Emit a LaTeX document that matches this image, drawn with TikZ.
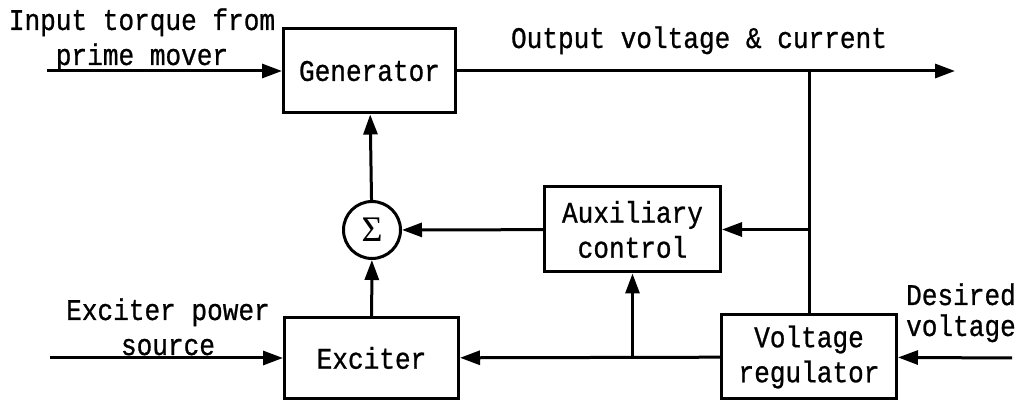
\documentclass[tikz,border=0pt]{standalone}
\usepackage{fontspec}
\setmainfont[FakeStretch=0.87, FakeBold=0.8]{Liberation Mono}
\newfontfamily\sigmafont{Liberation Serif}
\usepackage{amsmath}
\usepackage{tikz}
\usetikzlibrary{arrows.meta,positioning}

\begin{document}
\begin{tikzpicture}[
        x=1pt, y=-1pt,
        font=\fontsize{30}{35}\selectfont,
        block/.style={draw, line width=3pt, inner sep=0pt, align=center},
        sumnode/.style={draw, circle, line width=3pt, inner sep=0pt, minimum size=57pt},
        label/.style={inner sep=0pt, align=center},
        arrow/.style={-{Triangle[length=20pt, width=14pt]}, line width=3pt},
        wire/.style={line width=3pt}
    ]
        \useasboundingbox (0,0) rectangle (1021,403);

        % blocks
        \node[block, minimum width=172pt, minimum height=84pt] (gen) at (369.5,71) {Generator};
        \node[sumnode, font=\sigmafont\fontsize{36}{36}\selectfont] (sum) at (372,230) {Σ};
        \node[block, minimum width=176pt, minimum height=85pt] (aux) at (632.5,229.5) {Auxiliary\\control};
        \node[block, minimum width=174pt, minimum height=81pt] (exc) at (371.5,358) {Exciter};
        \node[block, minimum width=175pt, minimum height=84pt] (vr) at (809,357) {Voltage\\regulator};

        % labels (base = last line)
        \node[label, anchor=base] (inLbl) at (142,65) {Input torque from\\prime mover};
        \node[label, anchor=base] (outLbl) at (699,48) {Output voltage \& current};
        \node[label, anchor=base] (excLbl) at (168,355) {Exciter power\\source};
        \node[label, anchor=base east, align=right, font=\fontsize{30}{31}\selectfont] (desLbl) at (1016,336) {Desired\\voltage};

        % free ends
        \coordinate (inTq) at (47,71);
        \coordinate (outEnd) at (955,71);
        \coordinate (tap) at (809,71);
        \coordinate (excIn) at (50,358);
        \coordinate (desIn) at (1012,358);

        \draw[arrow] (inTq) -- (gen);
        \draw[arrow] (gen) -- (outEnd);
        \draw[wire] (tap) -- (vr.north);
        \draw[arrow] (tap |- aux) -- (aux.east);
        \draw[arrow] (aux) -- (sum);
        \draw[arrow] (sum) -- (gen);
        \draw[arrow] (exc) -- (sum);
        \draw[arrow] (excIn) -- (exc);
        \draw[arrow] (desIn) -- (vr);
        \draw[arrow] (vr) -- (exc);
        \draw[arrow] (aux |- exc) -- (aux.south);
    \end{tikzpicture}
\end{document}
